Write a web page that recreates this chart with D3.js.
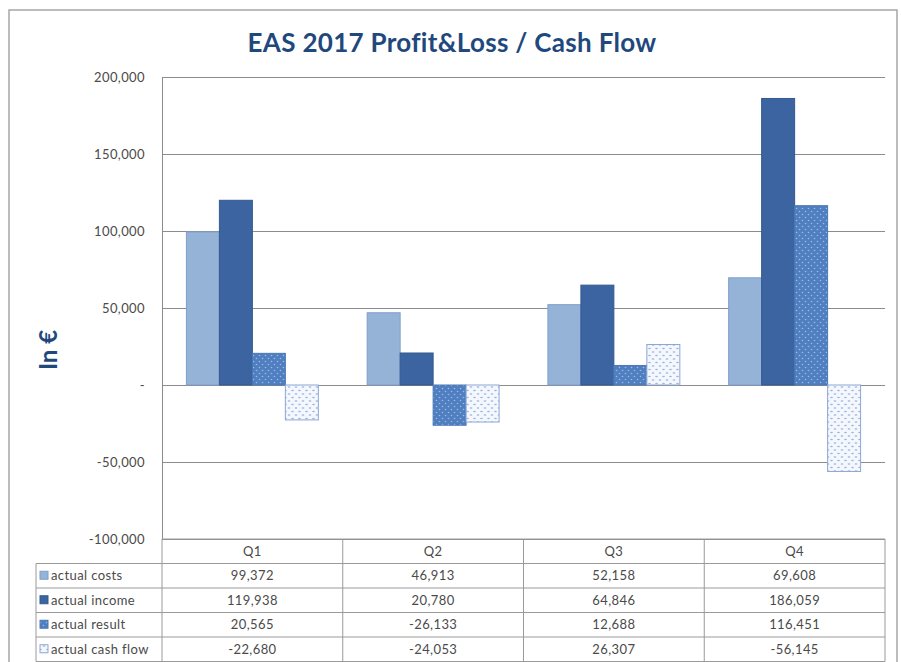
<!DOCTYPE html>
<html>
<head>
<meta charset="utf-8">
<script src="https://cdn.jsdelivr.net/npm/d3@7/dist/d3.min.js"></script>
<style>
  body { margin: 0; background: #fff; }
  svg { display: block; font-family: Lato, "Open Sans", sans-serif; }
</style>
</head>
<body>
<svg id="chart" width="901" height="662"></svg>
<script>
// chart data
const quarters = ["Q1", "Q2", "Q3", "Q4"];
const seriesNames = ["actual costs", "actual income", "actual result", "actual cash flow"];
const costs = [99372, 46913, 52158, 69608];
const income = [119938, 20780, 64846, 186059];
const result = [20565, -26133, 12688, 116451];
const cashFlow = [-22680, -24053, 26307, -56145];
const yTicks = [-100000, -50000, 0, 50000, 100000, 150000, 200000];

const seriesValues = [costs, income, result, cashFlow];
const fills = ["#95b3d7", "#3b64a0", "url(#dotsDark)", "url(#dotsLight)"];
const strokes = ["#7f9fcc", "#335a90", "#4a78b4", "#8ca6d6"];

const svg = d3.select("#chart");
const fmt = d3.formatLocale({ decimal: ".", thousands: ",", grouping: [3], currency: ["", "€"], minus: "-" }).format(",");

// patterns
const defs = svg.append("defs");
const pd = defs.append("pattern").attr("id", "dotsDark")
    .attr("width", 6).attr("height", 6).attr("patternUnits", "userSpaceOnUse");
pd.append("rect").attr("width", 6).attr("height", 6).attr("fill", "#4f7fc0");
pd.append("circle").attr("cx", 1.5).attr("cy", 1.5).attr("r", 0.8).attr("fill", "#9cbbe4");
pd.append("circle").attr("cx", 4.5).attr("cy", 4.5).attr("r", 0.8).attr("fill", "#9cbbe4");

const pl = defs.append("pattern").attr("id", "dotsLight")
    .attr("width", 7).attr("height", 7).attr("patternUnits", "userSpaceOnUse");
pl.append("rect").attr("width", 7).attr("height", 7).attr("fill", "#f4f8fe");
pl.append("ellipse").attr("cx", 2).attr("cy", 2).attr("rx", 1.4).attr("ry", 0.8).attr("fill", "#9fb5dc");
pl.append("ellipse").attr("cx", 5.5).attr("cy", 5.5).attr("rx", 1.4).attr("ry", 0.8).attr("fill", "#9fb5dc");

// outer frame
svg.append("rect").attr("x", 9).attr("y", 10).attr("width", 888).attr("height", 660)
    .attr("fill", "#fff").attr("stroke", "#a6a6a6").attr("stroke-width", 1.5);

const plotLeft = 162, plotRight = 885, plotTop = 77, plotBottom = 539;

const x = d3.scaleBand().domain(quarters).range([plotLeft, plotRight]).paddingInner(0).paddingOuter(0);
const xs = d3.scaleBand().domain(seriesNames).range([0, x.bandwidth()]).paddingOuter(0.74);
const y = d3.scaleLinear().domain([-100000, 200000]).range([plotBottom, plotTop]);

// title
svg.append("text").attr("x", 452).attr("y", 52).attr("text-anchor", "middle")
    .attr("font-size", 26).attr("font-weight", "bold").attr("fill", "#1f497d")
    .attr("letter-spacing", 0.3)
    .text("EAS 2017 Profit&Loss / Cash Flow");

// gridlines
svg.append("g").selectAll("line").data(yTicks).join("line")
    .attr("x1", plotLeft).attr("x2", plotRight)
    .attr("y1", d => Math.round(y(d)) + 0.5).attr("y2", d => Math.round(y(d)) + 0.5)
    .attr("stroke", "#8c8c8c").attr("stroke-width", 1);

// y axis
const yAxis = svg.append("g").attr("transform", `translate(${plotLeft},0)`)
    .call(d3.axisLeft(y).tickValues(yTicks).tickSize(0).tickPadding(17)
        .tickFormat(d => d === 0 ? "-" : fmt(d)));
yAxis.select(".domain").attr("stroke", "#8c8c8c");
yAxis.selectAll("text").attr("font-size", 13).attr("fill", "#4a4a4a")
    .attr("letter-spacing", 0.4).attr("font-family", "Lato, sans-serif");

svg.append("text").attr("transform", "translate(57,350) rotate(-90)")
    .attr("text-anchor", "middle").attr("font-size", 24).attr("font-weight", "bold")
    .attr("fill", "#1f497d").text("In €");

// bars
seriesNames.forEach((s, i) => {
    svg.append("g").selectAll("rect").data(quarters).join("rect")
        .attr("x", q => x(q) + xs(s))
        .attr("width", xs.bandwidth())
        .attr("y", (q, j) => y(Math.max(0, seriesValues[i][j])))
        .attr("height", (q, j) => Math.abs(y(seriesValues[i][j]) - y(0)))
        .attr("fill", fills[i])
        .attr("stroke", strokes[i]).attr("stroke-width", 1);
});

// data table
const tLeft = 36, hTop = 539, rowH = 24.5;
const tbl = svg.append("g").attr("font-size", 13).attr("fill", "#4a4a4a").attr("letter-spacing", 0.4);
const lineC = "#9a9a9a";

// header row
tbl.append("line").attr("x1", plotLeft).attr("x2", plotRight).attr("y1", hTop).attr("y2", hTop).attr("stroke", lineC);
tbl.selectAll(".hdr").data(quarters).join("text")
    .attr("x", q => x(q) + x.bandwidth() / 2).attr("y", hTop + rowH / 2 + 4.5)
    .attr("text-anchor", "middle").text(d => d);

// horizontal lines
d3.range(5).forEach(r => {
    const yy = hTop + rowH * (r + 1);
    tbl.append("line").attr("x1", tLeft).attr("x2", plotRight).attr("y1", yy).attr("y2", yy).attr("stroke", lineC);
});
// vertical lines
tbl.append("line").attr("x1", tLeft).attr("x2", tLeft).attr("y1", hTop + rowH).attr("y2", hTop + rowH * 5).attr("stroke", lineC);
[plotLeft].concat(quarters.map(q => x(q) + x.bandwidth())).forEach(xx => {
    tbl.append("line").attr("x1", xx).attr("x2", xx).attr("y1", hTop).attr("y2", hTop + rowH * 5).attr("stroke", lineC);
});

seriesNames.forEach((s, i) => {
    const cy = hTop + rowH * (i + 1) + rowH / 2;
    tbl.append("rect").attr("x", tLeft + 4).attr("y", cy - 4.5).attr("width", 8).attr("height", 8)
        .attr("fill", fills[i]).attr("stroke", strokes[i]);
    tbl.append("text").attr("x", tLeft + 15).attr("y", cy + 4.5).text(s);
    tbl.append("g").selectAll("text").data(quarters).join("text")
        .attr("x", q => x(q) + x.bandwidth() / 2).attr("y", cy + 4.5)
        .attr("text-anchor", "middle").text((q, j) => fmt(seriesValues[i][j]));
});
</script>
</body>
</html>
